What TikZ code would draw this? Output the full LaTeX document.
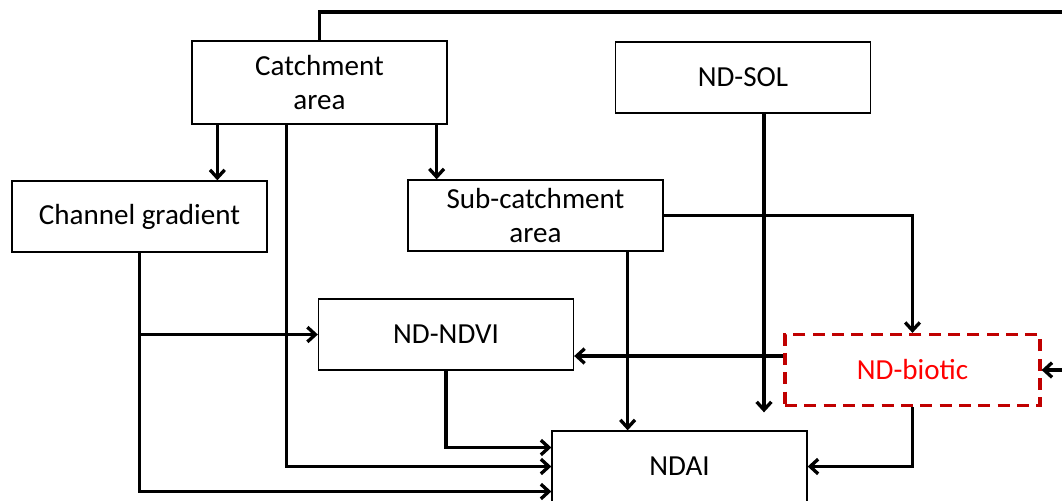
\documentclass[tikz,border=0pt]{standalone}
\usepackage{fontspec}
\setmainfont{Carlito}
\usetikzlibrary{arrows.meta}
\usetikzlibrary{calc}
\definecolor{bioticred}{RGB}{192,0,0}
\tikzstyle{box} = [rectangle,draw=black,line width=1pt,minimum width=191.25pt,minimum height=53.25pt,inner sep=0pt,align=center,font=\fontsize{21.8}{25.5}\selectfont]
\tikzstyle{dbox} = [box,draw=bioticred,text=red,line width=2.4pt,dash pattern=on 9pt off 5.5pt]
\tikzstyle{link} = [line width=2.5pt,-{Straight Barb[length=6pt,width=11pt]}]

\begin{document}
\begin{tikzpicture}[x=0.75pt,y=-0.75pt]
\useasboundingbox (0,0) rectangle (1062,500);
%\draw [help lines] (0,0) grid (1062,500);

% Define nodes
\node[box, minimum height=62.25pt]  (cat)  at (319.5,82.5) {Catchment\\area};
\node[box]                          (sol)  at (743,77.5)   {ND-SOL};
\node[box]                          (chan) at (139.5,216.5) {Channel gradient};
\node[box]                          (sub)  at (535.5,215.5) {Sub-catchment\\area};
\node[box]                          (ndvi) at (446,334.5)  {ND-NDVI};
\node[dbox]                         (bio)  at (912.5,370)  {ND-biotic};
\node[box]                          (ndai) at (679.5,466.5) {NDAI};
\coordinate                         (back) at (1085,12);

% Edges
\draw[link] (cat.north) |- (back) |- (bio.east);
\draw[link] ($(cat.south west)+(26,0)$) coordinate (c1) -- (c1 |- chan.north);
\draw[link] ($(cat.south east)+(-11,0)$) coordinate (c2) -- (c2 |- sub.north);
\draw[link] ($(cat.south west)+(95,0)$) coordinate (c3) |- (ndai.west);
\draw[link] (chan.south) |- (ndvi.west);
\draw[link] (chan.south) |- ($(ndai.west)+(0,25)$);
\draw[link] ($(sub.south east)+(-36,0)$) coordinate (c4) -- (c4 |- ndai.north);
\draw[link] (sub.east) -| (bio.north);
\draw[link] ($(sol.south)+(21,0)$) coordinate (c5) -- ($(c5 |- ndai.north)+(0,-18)$);
\draw[link] ($(bio.west)+(0,-14)$) coordinate (c6) -- (c6 -| ndvi.east);
\draw[link] (bio.south) |- (ndai.east);
\draw[link] (ndvi.south) |- ($(ndai.west)+(0,-19)$);
\end{tikzpicture}
\end{document}
